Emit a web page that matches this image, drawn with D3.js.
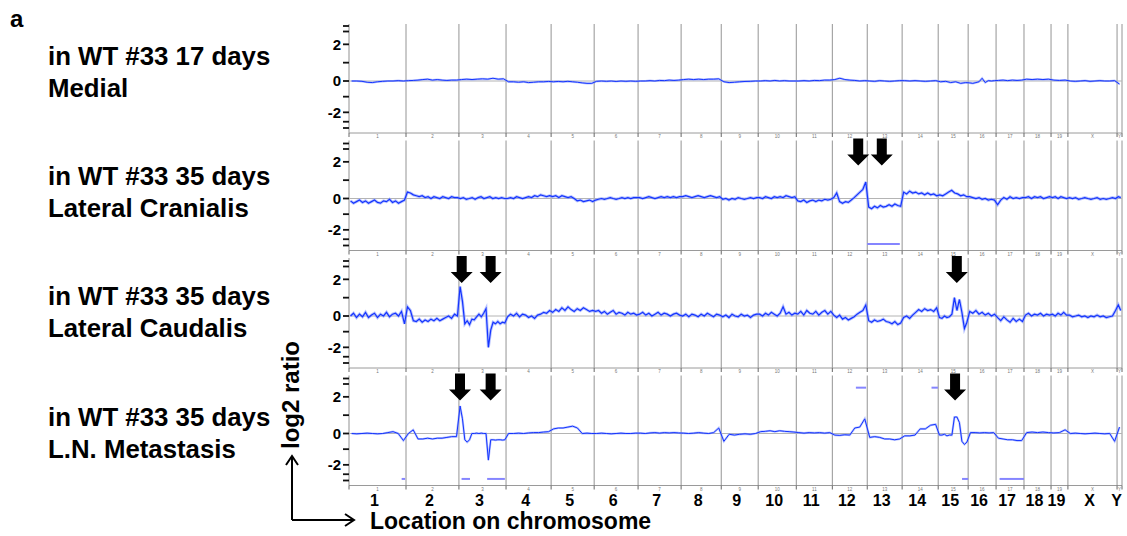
<!DOCTYPE html>
<html>
<head>
<meta charset='utf-8'>
<title>aCGH profiles</title>
<script src="https://cdn.jsdelivr.net/npm/d3@7"></script>
<style>
  body { margin: 0; background: #fff; }
  text { font-family: 'Liberation Sans', Arial, sans-serif; }
</style>
</head>
<body>
<svg width="1127" height="536"></svg>
<script>
  // chromosomes and approximate lengths (Mb)
  const chroms = ['1','2','3','4','5','6','7','8','9','10','11','12','13','14','15','16','17','18','19','X','Y'];
  const chromMb = [196,182,162,155,148,151,148,138,127,131,124,120,120,124,103,96,96,93,58,169,17];

  const panelLabels = [
    ['in WT #33 17 days', 'Medial'],
    ['in WT #33 35 days', 'Lateral Cranialis'],
    ['in WT #33 35 days', 'Lateral Caudalis'],
    ['in WT #33 35 days', 'L.N. Metastasis']
  ];

  const yTickMarks = [3, 2.7, 2, 1, 0, -1, -2, -2.6, -3];
  const yTickLabels = [2, 0, -2];

  // log2 ratio, per chromosome, evenly spread along it
  const medial = [
    [0.0,0.0,-0.02,-0.08,-0.1,-0.05,-0.02,0.0,0.0,0.02,0.0],
    [0.02,0.03,0.05,0.08,0.1,0.05,0.08,0.05,0.03,0.05,0.05],
    [0.08,0.1,0.08,0.1,0.12,0.1,0.15,0.1,0.12],
    [-0.05,-0.05,-0.08,-0.05,-0.1,-0.08,-0.05,-0.05,-0.03],
    [-0.05,-0.03,-0.05,-0.02,-0.05,-0.08,-0.12,-0.15,-0.15],
    [-0.02,0.0,-0.02,0.0,-0.03,0.0,-0.02,0.0,-0.02],
    [0.0,0.0,0.02,0.0,0.03,0.02,0.05,0.03,0.05],
    [0.08,0.1,0.08,0.1,0.08,0.1,0.1,0.12],
    [-0.05,-0.1,-0.08,-0.05,-0.03,-0.02,0.0],
    [0.0,0.02,0.0,0.03,0.0,0.02,0.0,0.0],
    [0.0,0.02,0.0,0.03,0.02,0.05,0.05],
    [0.08,0.15,0.08,0.05,0.03,0.0,0.02],
    [0.0,-0.02,0.02,0.0,-0.02,0.0,0.02],
    [0.02,0.0,0.02,0.0,-0.02,0.0,0.02],
    [-0.05,-0.02,-0.1,-0.05,-0.15,-0.1],
    [-0.12,-0.15,-0.1,-0.05,0.15,-0.1,0.02,0.0,0.02],
    [0.03,0.05,0.02,0.05,0.03,0.05],
    [0.1,0.08,0.1,0.08,0.1],
    [0.05,0.03,0.05],
    [0.0,-0.02,0.0,0.02,-0.02,0.0,0.02,0.0,0.0,0.02],
    [-0.2]
  ];

  const cranialis = [
    [-0.15,-0.3,-0.2,-0.1,-0.25,-0.15,-0.3,-0.2,-0.1,-0.25,-0.3,-0.15,-0.2,-0.05,-0.25,-0.15,-0.3,-0.2,-0.1],
    [0.35,0.3,0.2,0.15,0.1,0.15,0.05,0.1,0.0,0.1,0.05,0.0,0.1,0.05,0.0,0.1,0.05,0.05],
    [0.0,0.05,-0.05,0.0,0.05,-0.05,0.05,0.1,0.0,0.05,0.1,0.0,0.05,0.0,0.05,0.0],
    [0.0,0.05,0.0,0.1,0.05,0.0,0.05,0.1,0.05,0.15,0.1,0.2,0.15,0.1,0.15],
    [0.1,0.15,0.05,0.15,0.1,0.05,0.1,0.0,-0.15,-0.1,-0.2,-0.15,-0.1,-0.2],
    [-0.1,-0.05,0.0,-0.05,0.0,0.05,0.0,-0.05,0.0,0.05,0.0,0.05,0.0,0.05,0.05],
    [0.05,0.0,0.05,0.1,0.05,0.0,0.05,0.1,0.05,0.1,0.05,0.1,0.05,0.1],
    [0.1,0.15,0.1,0.05,0.1,0.15,0.1,0.05,0.1,0.15,0.1,0.05,0.1],
    [-0.05,0.0,-0.1,0.0,-0.05,0.05,0.0,-0.05,0.0,0.05,0.0,0.05],
    [0.05,0.0,0.1,0.05,0.0,0.1,0.05,0.1,0.05,0.15,0.1,0.05,0.1],
    [-0.15,-0.2,-0.1,-0.25,-0.15,-0.1,-0.2,-0.1,-0.15,-0.05,-0.1,-0.05],
    [0.05,0.3,-0.2,-0.3,-0.2,-0.25,-0.1,0.05,0.2,0.35,0.5,0.9],
    [-0.55,-0.65,-0.5,-0.6,-0.45,-0.55,-0.5,-0.4,-0.5,-0.35,-0.45,-0.5],
    [0.35,0.25,0.4,0.3,0.35,0.25,0.3,0.2,0.3,0.2,0.25,0.15],
    [0.2,0.15,0.25,0.35,0.45,0.3,0.25,0.15,0.2,0.1],
    [0.1,0.05,0.0,0.05,-0.05,0.0,-0.1,-0.05,-0.1],
    [-0.4,-0.1,0.05,-0.05,0.1,0.0,0.05,0.0,0.05],
    [0.05,0.1,0.0,0.1,0.05,0.1,0.0,0.05,0.1],
    [0.05,0.1,0.0,0.1,0.05,0.0],
    [0.05,0.0,0.05,-0.05,0.0,0.05,0.0,-0.05,0.0,0.05,-0.05,0.0,-0.05,0.0,0.05,0.0],
    [0.1,0.05]
  ];

  const caudalis = [
    [0.0,0.15,-0.1,0.1,-0.05,0.2,-0.1,0.05,0.15,-0.1,0.1,0.0,0.2,-0.05,0.1,0.15,0.0,0.25,-0.5],
    [0.5,0.3,-0.3,-0.35,-0.2,-0.4,-0.25,-0.35,-0.2,-0.3,-0.15,-0.3,-0.2,-0.1,0.0,-0.15,0.1,0.0],
    [1.6,0.8,-0.5,-0.3,-0.55,-0.2,-0.25,-0.05,0.1,-0.05,0.15,0.4,-2.0,-0.9,-0.4,-0.5,-0.35,-0.5,-0.4,-0.45],
    [-0.05,0.1,0.0,0.15,-0.05,0.1,0.05,-0.1,0.0,-0.15,0.05,0.1,0.2,0.15,0.3],
    [0.2,0.35,0.25,0.45,0.3,0.5,0.35,0.25,0.4,0.3,0.45,0.35,0.25,0.3],
    [0.25,0.3,0.15,0.25,0.1,0.2,0.3,0.1,0.2,0.15,0.05,0.2,0.1,0.15,0.05],
    [0.1,0.2,0.05,0.15,0.0,0.1,0.2,0.05,0.15,0.1,0.0,0.1,0.15,0.05],
    [0.0,0.1,-0.05,0.1,0.05,-0.05,0.1,0.0,0.15,0.05,-0.05,0.1,0.05],
    [-0.05,0.05,-0.1,0.1,0.0,-0.05,0.1,0.0,0.05,-0.1,0.05,0.1],
    [0.1,0.0,0.15,0.05,0.2,0.1,0.0,0.15,0.5,0.1,0.2,0.05,0.15],
    [0.1,0.25,0.05,0.3,0.15,0.1,0.25,0.05,0.2,0.3,0.1,0.25],
    [0.05,-0.1,0.05,-0.2,-0.1,-0.25,-0.15,-0.05,0.1,0.2,0.3,0.6],
    [-0.3,-0.4,-0.25,-0.35,-0.3,-0.2,-0.35,-0.4,-0.5,-0.35,-0.55,-0.45],
    [-0.1,0.0,-0.15,0.05,0.2,0.35,0.25,0.4,0.3,0.35,0.25,0.45],
    [-0.1,-0.15,0.0,-0.1,-0.05,0.1,1.0,0.3,0.9,0.2,-0.8,-0.4],
    [0.25,0.15,0.3,0.1,0.2,0.05,0.15,0.0,0.1],
    [-0.1,-0.3,-0.05,-0.25,-0.4,-0.15,-0.35,-0.2,-0.35],
    [0.05,0.15,0.0,0.1,0.05,0.15,0.0,0.1,0.05],
    [0.1,0.0,0.15,0.05,0.2,0.05],
    [0.05,-0.05,0.0,0.05,-0.05,0.0,-0.1,0.0,-0.05,0.05,-0.05,0.0,-0.1,-0.05,0.0,0.3],
    [0.6,0.3]
  ];

  const metastasis = [
    [0.0,-0.02,0.0,0.02,0.0,-0.02,0.0,0.05,0.1,0.0,-0.45],
    [0.0,0.2,-0.35,-0.35,-0.3,-0.35,-0.3,-0.3,-0.25,-0.2,-0.2],
    [1.5,0.8,-0.4,-0.55,-0.4,0.0,0.0,0.02,0.0,0.02,0.0,0.0,-1.7,-0.4,-0.4,-0.42,-0.4,-0.4,-0.42,-0.4],
    [0.0,0.0,0.02,0.0,0.03,0.05,0.05,0.08,0.1],
    [0.25,0.3,0.3,0.35,0.4,0.3,0.0,0.02,0.0],
    [0.0,0.02,0.0,-0.02,0.0,0.02,0.0,0.0,0.02],
    [0.02,0.0,0.03,0.05,0.02,0.05,0.03,0.05,0.03],
    [0.02,0.0,0.02,0.05,0.02,0.0,0.05,0.3],
    [-0.5,-0.05,-0.1,-0.05,-0.02,-0.05,0.0],
    [0.1,0.12,0.15,0.1,0.15,0.12,0.1,0.08],
    [0.05,0.02,0.05,0.03,0.05,0.02,0.05],
    [-0.1,-0.12,-0.08,-0.1,0.3,0.35,0.8],
    [-0.25,-0.2,-0.25,-0.35,-0.35,-0.4,-0.35],
    [-0.15,-0.15,-0.1,0.25,0.25,0.45,0.5],
    [-0.1,-0.1,-0.05,-0.15,-0.1,-0.1,0.9,0.9,0.6,-0.5,-0.7,-0.55],
    [0.05,0.05,0.03,0.05,0.03,0.05],
    [-0.3,-0.35,-0.4,-0.4,-0.45,-0.45],
    [0.05,0.08,0.05,0.08,0.05],
    [0.03,0.05,0.2],
    [0.0,0.02,0.0,-0.02,0.0,0.02,0.0,-0.02,0.0,-0.5],
    [0.35]
  ];

  const profiles = [medial, cranialis, caudalis, metastasis];

  // called gain / loss segments: panel, chromosome index, start Mb, end Mb, level
  const segPanel = [1, 3, 3, 3, 3, 3, 3, 3];
  const segChrom = [12, 0, 2, 2, 14, 16, 11, 13];
  const segStart = [0, 181, 9, 97, 82, 12, 81, 101];
  const segEnd   = [112, 193, 38, 158, 103, 96, 116, 123];
  const segLevel = [-2.9, -2.9, -2.9, -2.9, -2.9, -2.9, 2.5, 2.5];

  // arrows: panel, chromosome index, Mb
  const arrowPanel = [1, 1, 2, 2, 2, 3, 3, 3];
  const arrowChrom = [11, 12, 2, 2, 14, 2, 2, 14];
  const arrowMb    = [89, 50, 9.5, 109, 64, 3.7, 109, 58];

  const svg = d3.select('svg');

  const offsets = [];
  chromMb.reduce((acc, len, i) => { offsets[i] = acc; return acc + len; }, 0);
  const totalMb = d3.sum(chromMb);

  const x = d3.scaleLinear().domain([0, totalMb]).range([349, 1122]);

  const zeroOf = i => 81 + 117.5 * i;

  profiles.forEach(function (prof, p) {
    const zero = zeroOf(p);
    const top = p === 0 ? 24 : zero - 58;
    const axisY = zero + 52;
    const y = d3.scaleLinear().domain([-3, 0, 3]).range([zero + 47, zero, zero - 55]);
    const g = svg.append('g');

    // chromosome boundaries
    const bounds = [0].concat(chromMb.map((len, i) => offsets[i] + len));
    g.selectAll('line.bound').data(bounds).enter().append('line')
      .attr('x1', d => x(d)).attr('x2', d => x(d))
      .attr('y1', top).attr('y2', axisY)
      .attr('stroke', (d, i) => i === 0 ? '#c8c8c8' : '#949494')
      .attr('stroke-width', (d, i) => i === 0 ? 2 : 1);

    // zero line
    g.append('line')
      .attr('x1', x(0)).attr('x2', x(totalMb))
      .attr('y1', zero).attr('y2', zero)
      .attr('stroke', '#b4b4b4');

    // bottom axis with tiny chromosome names
    g.append('line')
      .attr('x1', x(0)).attr('x2', x(totalMb))
      .attr('y1', axisY).attr('y2', axisY)
      .attr('stroke', '#9a9a9a');
    g.selectAll('line.tk').data(bounds).enter().append('line')
      .attr('x1', d => x(d)).attr('x2', d => x(d))
      .attr('y1', axisY).attr('y2', axisY + 4)
      .attr('stroke', '#666');
    g.selectAll('text.tiny').data(chroms).enter().append('text')
      .attr('x', (d, i) => x(offsets[i] + chromMb[i] / 2))
      .attr('y', axisY + 5)
      .attr('text-anchor', 'middle')
      .attr('font-size', 4.5)
      .attr('fill', '#777')
      .text(d => d);

    // profile
    const pts = [];
    prof.forEach(function (vals, c) {
      vals.forEach(function (v, i) {
        pts.push({ pos: offsets[c] + (i + 0.5) / vals.length * chromMb[c], v: v });
      });
    });
    const line = d3.line().x(d => x(d.pos)).y(d => y(d.v));
    const noisy = p === 1 || p === 2;
    g.append('path').datum(pts).attr('d', line)
      .attr('fill', 'none').attr('stroke', '#8a9cff')
      .attr('stroke-width', noisy ? 3 : 2.2).attr('opacity', 0.6);
    g.append('path').datum(pts).attr('d', line)
      .attr('fill', 'none').attr('stroke', '#1434ff').attr('stroke-width', noisy ? 1.2 : 1);

    // segments
    segPanel.forEach(function (sp, k) {
      if (sp !== p) return;
      g.append('line')
        .attr('x1', x(offsets[segChrom[k]] + segStart[k]))
        .attr('x2', x(offsets[segChrom[k]] + segEnd[k]))
        .attr('y1', y(segLevel[k])).attr('y2', y(segLevel[k]))
        .attr('stroke', '#8585ff').attr('stroke-width', 2);
    });

    // y axis
    g.selectAll('line.yt').data(yTickMarks).enter().append('line')
      .attr('x1', 343).attr('x2', 349)
      .attr('y1', d => y(d)).attr('y2', d => y(d))
      .attr('stroke', '#111').attr('stroke-width', 1.8);
    g.selectAll('text.yl').data(yTickLabels).enter().append('text')
      .attr('x', 341).attr('y', d => y(d))
      .attr('dy', '0.36em')
      .attr('text-anchor', 'end')
      .attr('font-size', 15).attr('font-weight', 'bold')
      .text(d => d);

    // arrows
    arrowPanel.forEach(function (ap, k) {
      if (ap !== p) return;
      const cx = x(offsets[arrowChrom[k]] + arrowMb[k]);
      const tip = zero - 33;
      const pts = [[cx - 5, tip - 27], [cx + 5, tip - 27], [cx + 5, tip - 11], [cx + 11, tip - 11],
                   [cx, tip], [cx - 11, tip - 11], [cx - 5, tip - 11]];
      g.append('polygon').attr('points', pts.map(q => q.join(',')).join(' ')).attr('fill', '#000');
    });

    // panel labels
    panelLabels[p].forEach(function (t, j) {
      svg.append('text')
        .attr('x', 48).attr('y', 65 + 120.2 * p + 32 * j)
        .attr('font-size', 25.8).attr('font-weight', 'bold')
        .text(t);
    });
  });

  // big chromosome labels
  svg.selectAll('text.chr').data(chroms).enter().append('text')
    .attr('x', (d, i) => x(offsets[i] + chromMb[i] / 2) - 3)
    .attr('y', 506)
    .attr('text-anchor', 'middle')
    .attr('font-size', 16).attr('font-weight', 'bold')
    .text(d => d);

  svg.append('text').attr('x', 10).attr('y', 27)
    .attr('font-size', 24).attr('font-weight', 'bold').text('a');

  svg.append('text')
    .attr('transform', 'translate(299,395) rotate(-90)')
    .attr('text-anchor', 'middle')
    .attr('font-size', 24).attr('font-weight', 'bold')
    .text('log2 ratio');

  svg.append('text').attr('x', 370).attr('y', 529)
    .attr('font-size', 23).attr('font-weight', 'bold')
    .text('Location on chromosome');

  // axis-direction arrows
  svg.append('path').attr('d', 'M292,520 V456 M286,465 L292,456 L298,465 M292,520 H354 M345,514 L354,520 L345,526')
    .attr('fill', 'none').attr('stroke', '#000').attr('stroke-width', 2);
</script>
</body>
</html>
